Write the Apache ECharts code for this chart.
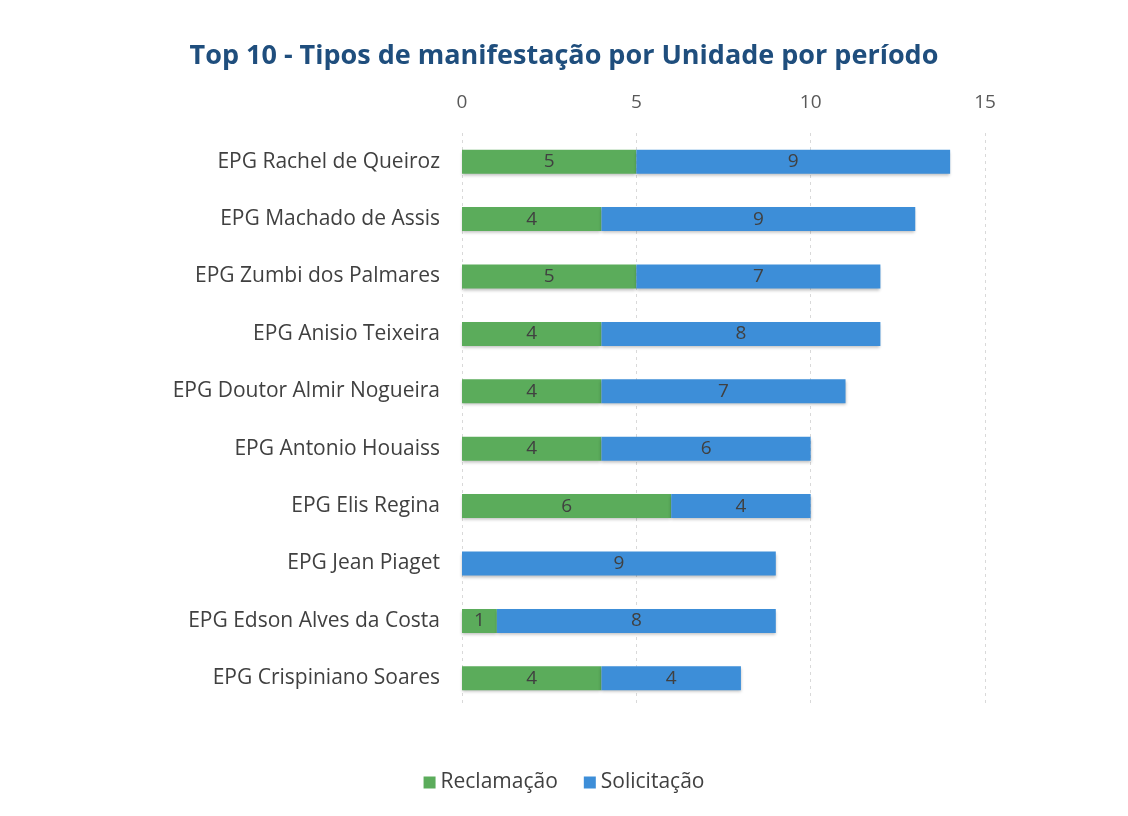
<!DOCTYPE html>
<html>
<head>
<meta charset="utf-8">
<script src="https://cdn.jsdelivr.net/npm/echarts@6/dist/echarts.min.js"></script>
<style>
  html, body { margin: 0; padding: 0; background: #fff; }
  #chart { width: 1128px; height: 816px; }
</style>
</head>
<body>
<div id="chart"></div>
<script>
// categories, top to bottom
const unidades = [
  'EPG Rachel de Queiroz',
  'EPG Machado de Assis',
  'EPG Zumbi dos Palmares',
  'EPG Anisio Teixeira',
  'EPG Doutor Almir Nogueira',
  'EPG Antonio Houaiss',
  'EPG Elis Regina',
  'EPG Jean Piaget',
  'EPG Edson Alves da Costa',
  'EPG Crispiniano Soares',
]
const reclamacao = [5, 4, 5, 4, 4, 4, 6, 0, 1, 4]
const solicitacao = [9, 9, 7, 8, 7, 6, 4, 9, 8, 4]

const font = '"Open Sans", "Noto Sans", sans-serif'

const barLabel = {
  show: true,
  position: 'inside',
  color: '#404040',
  fontSize: 19,
  fontFamily: font,
  formatter: (p) => (p.value ? p.value : ''),
}

const chart = echarts.init(document.getElementById('chart'))
chart.setOption({
  animation: false,
  title: {
    text: 'Top 10 - Tipos de manifestação por Unidade por período',
    left: 'center',
    top: 38,
    textStyle: {
      fontFamily: font,
      fontSize: 27,
      fontWeight: 'bold',
      color: '#1f4e7d',
    },
  },
  legend: {
    bottom: 18,
    left: 'center',
    itemWidth: 12,
    itemHeight: 12,
    itemGap: 26,
    icon: 'rect',
    textStyle: { fontFamily: font, fontSize: 21, color: '#404040' },
  },
  grid: { left: 462, right: 143, top: 133, bottom: 109 },
  xAxis: {
    type: 'value',
    position: 'top',
    min: 0,
    max: 15,
    interval: 5,
    axisLine: { show: false },
    axisTick: { show: false },
    axisLabel: { fontFamily: font, fontSize: 19, color: '#595959', margin: 21 },
    splitLine: { lineStyle: { color: '#d9d9d9', type: [3, 4] } },
  },
  yAxis: {
    type: 'category',
    inverse: true,
    data: unidades,
    axisLine: { show: false },
    axisTick: { show: false },
    axisLabel: { fontFamily: font, fontSize: 21, color: '#404040', margin: 22 },
  },
  series: [
    {
      name: 'Reclamação',
      type: 'bar',
      stack: 'total',
      barWidth: 24,
      data: reclamacao,
      label: barLabel,
      itemStyle: {
        color: '#5bac5b',
        shadowColor: 'rgba(0,0,0,0.25)',
        shadowBlur: 3,
        shadowOffsetY: 2,
      },
    },
    {
      name: 'Solicitação',
      type: 'bar',
      stack: 'total',
      barWidth: 24,
      data: solicitacao,
      label: barLabel,
      itemStyle: {
        color: '#3d8ed8',
        shadowColor: 'rgba(0,0,0,0.25)',
        shadowBlur: 3,
        shadowOffsetY: 2,
      },
    },
  ],
})
</script>
</body>
</html>
